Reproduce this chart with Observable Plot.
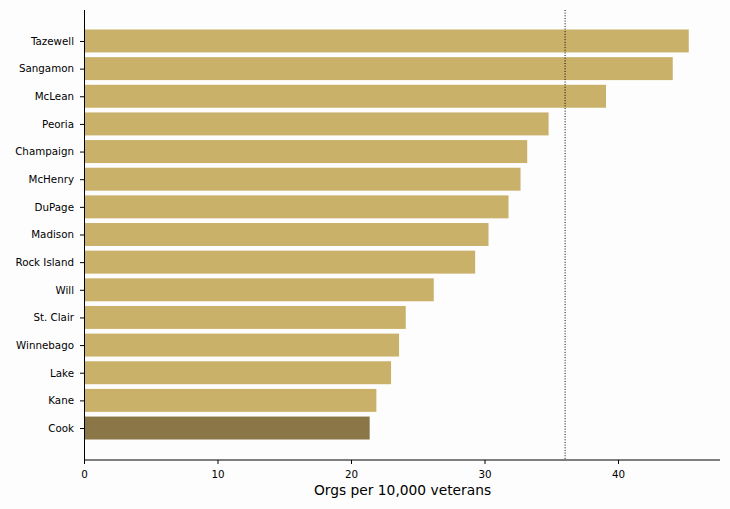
<!DOCTYPE html>
<html>
<head>
<meta charset="utf-8">
<script src="https://cdn.jsdelivr.net/npm/d3@7"></script>
<script src="https://cdn.jsdelivr.net/npm/@observablehq/plot@0.6"></script>
<style>
  html, body { margin: 0; padding: 0; background: #fdfdfd; }
  #chart svg { display: block; background: #fdfdfd; }
</style>
</head>
<body>
<div id="chart"></div>
<script>
const counties = ["Tazewell","Sangamon","McLean","Peoria","Champaign","McHenry","DuPage","Madison","Rock Island","Will","St. Clair","Winnebago","Lake","Kane","Cook"];
const rates = [45.3, 44.1, 39.1, 34.8, 33.2, 32.7, 31.8, 30.3, 29.3, 26.2, 24.1, 23.6, 23.0, 21.9, 21.4];
const highlight = "Cook";
const referenceValue = 36.0;
const xTicks = [0, 10, 20, 30, 40];
const xLabel = "Orgs per 10,000 veterans";

const data = counties.map((c, i) => ({county: c, rate: rates[i], hl: c === highlight}));

const spineBottom = (index, scales, values, dims) => {
  const l = d3.create("svg:line")
    .attr("x1", dims.marginLeft).attr("x2", dims.width - dims.marginRight)
    .attr("y1", dims.height - dims.marginBottom).attr("y2", dims.height - dims.marginBottom)
    .attr("stroke", "black").attr("stroke-width", 1);
  return l.node();
};

const chart = Plot.plot({
  width: 730,
  height: 509,
  marginLeft: 84,
  marginRight: 10,
  marginTop: 10,
  marginBottom: 49,
  style: {fontFamily: "DejaVu Sans, sans-serif", background: "#fdfdfd", color: "black"},
  x: {domain: [0, 47.64], ticks: xTicks},
  y: {domain: counties, range: [29.5, 439.5], paddingInner: 0.17, paddingOuter: 0, round: false, label: null},
  marks: [
    Plot.barX(data, {y: "county", x: "rate", fill: d => d.hl ? "#8a7647" : "#cab16a"}),
    Plot.ruleX([referenceValue], {stroke: "black", strokeWidth: 1, strokeDasharray: "1,1.65"}),
    Plot.ruleX([0], {stroke: "black", strokeWidth: 1}),
    spineBottom,
    Plot.axisX({ticks: xTicks, tickSize: 4, tickPadding: 6, fontSize: 10.3, label: null, tickFormat: d3.format("d")}),
    Plot.axisY({tickSize: 4, tickPadding: 6.5, fontSize: 10.3, label: null}),
    Plot.text([xLabel], {frameAnchor: "bottom", dy: 34, fontSize: 13.8, fill: "black"})
  ]
});
document.getElementById("chart").appendChild(chart);
</script>
</body>
</html>
